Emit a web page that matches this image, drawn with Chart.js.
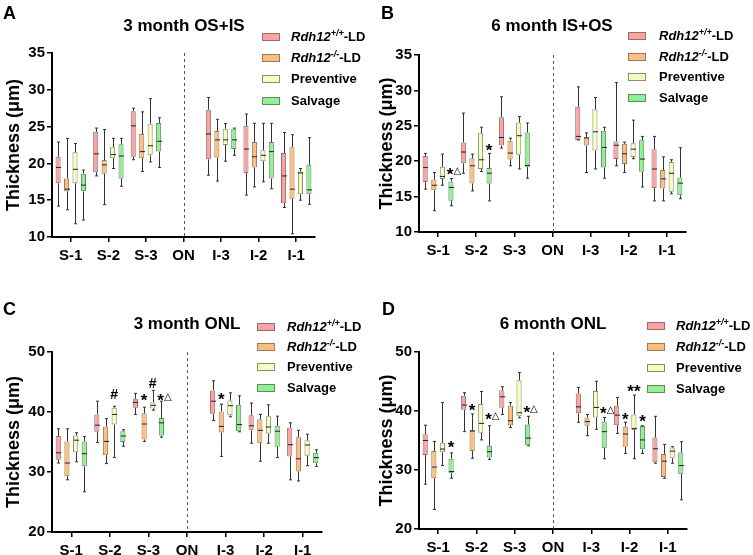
<!DOCTYPE html>
<html>
<head>
<meta charset="utf-8">
<script src="https://cdn.jsdelivr.net/npm/chart.js@4.4.1/dist/chart.umd.min.js"></script>
<style>
body{margin:0;background:#fff;font-family:"Liberation Sans",Arial,sans-serif;}
#fig{position:relative;width:753px;height:555px;overflow:hidden;background:#fff;}
canvas{position:absolute;}
.lbl{position:absolute;font-weight:bold;color:#000;white-space:nowrap;}
.letter{font-size:18px;line-height:18px;}
.ttl{font-size:17px;line-height:17px;transform:translate(-50%,-50%);}
.row{position:absolute;height:16px;line-height:16px;font-size:13px;font-weight:bold;white-space:nowrap;color:#000;}
.sw{position:absolute;top:4px;width:18px;height:8px;box-sizing:border-box;border:1px solid #777;}
.tx{position:absolute;top:0;}
sup{font-size:9px;vertical-align:5px;line-height:0;}
</style>
</head>
<body>
<div id="fig">
  <canvas id="cA" width="376" height="277" style="left:0;top:0"></canvas>
  <canvas id="cB" width="380" height="277" style="left:373px;top:0"></canvas>
  <canvas id="cC" width="376" height="278" style="left:0;top:277px"></canvas>
  <canvas id="cD" width="380" height="278" style="left:373px;top:277px"></canvas>

  <div class="lbl letter" style="left:3px;top:4px">A</div>
  <div class="lbl letter" style="left:381px;top:4px">B</div>
  <div class="lbl letter" style="left:3px;top:300px">C</div>
  <div class="lbl letter" style="left:382px;top:300px">D</div>

  <div class="lbl ttl" style="left:184px;top:25px">3 month OS+IS</div>
  <div class="lbl ttl" style="left:552px;top:25px">6 month IS+OS</div>
  <div class="lbl ttl" style="left:187px;top:323px">3 month ONL</div>
  <div class="lbl ttl" style="left:553px;top:323px">6 month ONL</div>
  <div id="legends"></div>
</div>
<script>
Chart.defaults.font.family = '"Liberation Sans", Arial, sans-serif';
Chart.defaults.color = '#000';

// x categories
const categories = ['S-1', 'S-2', 'S-3', 'ON', 'I-3', 'I-2', 'I-1'];
const groupNames = ['Rdh12+/+-LD', 'Rdh12-/--LD', 'Preventive', 'Salvage'];
const fills = ['#F9A3A3', '#FDBE82', '#F6FBC2', '#95EE95'];
const borders = ['#9a6e6e', '#9a7a5c', '#8c8c70', '#5e8c5e'];

// each entry: [min, q1, median, q3, max]  (null = no data at ON)
// panel A: 3 month OS+IS
const A_wt   = [[14.2,17.3,19.45,20.9,22.9],[18.3,18.8,21.3,24.3,24.8],[20.5,20.9,25.1,27.1,27.5],null,[18.4,20.55,24.0,27.3,28.95],[15.7,18.7,21.95,25.1,26.7],[14.0,14.6,18.3,21.4,24.2]];
const A_ko   = [[13.7,16.2,16.5,17.95,23.4],[14.4,18.6,19.8,20.45,24.6],[18.9,20.7,21.6,24.0,27.0],null,[17.6,20.8,23.2,24.4,26.0],[16.8,19.45,20.9,22.9,25.45],[10.45,15.2,16.5,22.2,23.9]];
const A_prev = [[11.8,17.3,19.2,21.5,22.7],[19.3,20.7,21.2,22.2,23.4],[20.2,21.1,22.4,25.4,28.8],null,[20.3,22.5,23.2,24.7,25.4],[17.5,20.3,21.1,21.8,25.45],[15.0,15.8,18.7,18.9,19.3]];
const A_salv = [[12.3,16.2,17.05,18.6,19.1],[16.9,17.9,21.0,22.6,23.4],[19.45,21.6,23.0,25.5,26.2],null,[21.1,21.95,23.2,24.7,24.8],[16.55,17.95,21.6,22.9,25.45],[14.45,15.8,16.4,19.8,23.5]];

// panel B: 6 month IS+OS
const B_wt   = [[16.05,17.05,19.1,20.75,21.1],[18.3,19.7,21.3,22.65,26.8],[21.85,22.2,23.35,26.2,29.1],null,[23.0,23.0,23.5,27.7,30.5],[19.35,20.3,22.25,22.8,31.1],[14.4,16.2,18.9,21.7,23.5]];
const B_ko   = [[13.0,15.9,16.6,17.4,18.4],[15.8,16.85,19.35,20.4,21.0],[19.35,20.25,21.15,22.9,23.25],null,[18.4,22.2,23.3,23.35,24.0],[18.4,19.6,21.05,22.45,22.7],[14.4,16.15,17.5,18.75,20.6]];
const B_prev = [[16.6,17.5,17.85,19.2,21.0],[18.55,18.9,20.2,23.95,24.8],[18.9,20.9,23.6,25.45,26.3],null,[18.9,21.5,24.15,27.35,29.0],[20.35,20.6,21.7,22.55,25.8],[15.4,15.7,18.3,19.9,20.2]];
const B_salv = [[13.7,14.4,16.3,17.15,17.55],[14.4,16.85,18.3,19.05,21.1],[17.6,19.2,19.4,24.05,25.4],null,[17.6,19.1,21.95,24.3,24.8],[16.35,18.5,20.3,22.95,23.5],[14.7,15.2,16.9,17.7,21.9]];

// panel C: 3 month ONL
const C_wt   = [[31.5,32.05,33.2,36.0,37.2],[34.9,36.7,37.8,39.6,41.8],[39.6,40.7,41.6,42.2,43.1],null,[38.6,39.7,41.8,43.6,45.2],[34.8,36.95,37.7,39.45,41.5],[28.7,32.6,34.55,37.4,38.2]];
const C_ko   = [[28.7,29.3,31.5,35.1,37.2],[31.4,32.8,35.1,37.6,38.9],[35.1,35.4,38.0,39.8,40.8],null,[32.6,36.6,37.6,40.1,41.3],[31.8,34.8,36.95,38.8,39.6],[28.5,30.1,32.2,35.8,36.95]];
const C_prev = [[31.7,33.3,35.3,36.1,36.55],[32.4,37.9,39.6,40.7,40.95],[40.3,40.6,41.1,41.6,43.6],null,[39.2,39.45,41.05,41.9,43.2],[34.8,36.4,37.5,39.3,41.2],[31.05,32.7,34.5,35.3,36.3]];
const C_salv = [[26.7,30.95,33.05,35.1,35.9],[34.3,35.0,36.0,36.8,37.05],[35.8,36.1,38.2,39.0,41.8],null,[36.7,36.8,37.9,41.2,42.7],[32.4,34.2,36.8,37.7,39.3],[30.95,31.45,32.4,33.2,33.7]];

// panel D: 6 month ONL
const D_wt   = [[27.6,32.55,35.0,36.05,37.6],[36.5,40.2,41.0,42.6,43.1],[39.4,40.55,42.4,43.5,44.1],null,[38.1,39.6,40.7,42.95,44.0],[36.2,37.6,39.3,40.9,42.3],[31.15,31.3,33.6,35.5,39.1]];
const D_ko   = [[23.3,28.6,30.5,33.2,34.85],[32.0,33.2,36.6,36.8,39.5],[37.2,37.6,38.35,40.9,41.45],null,[35.8,37.5,38.2,38.9,39.4],[32.8,33.95,36.1,37.35,38.1],[28.6,28.8,31.5,32.7,34.35]];
const D_prev = [[30.75,33.0,33.55,34.6,41.45],[35.1,36.3,37.9,41.2,43.3],[38.85,39.1,39.7,45.2,46.5],null,[36.9,38.9,40.6,43.4,45.05],[31.9,36.8,37.05,39.4,42.7],[31.15,32.0,33.2,33.8,33.95]];
const D_salv = [[28.6,29.45,29.75,31.9,32.9],[31.8,32.1,33.1,34.1,37.5],[34.1,34.2,35.4,37.7,39.1],null,[31.9,33.7,36.5,38.2,38.9],[32.8,33.5,35.1,37.45,37.5],[24.95,29.3,30.75,32.95,34.8]];

// significance marks: [category index, group index, y value, text]
const A_marks = [];
const B_marks = [[0,3,18.8,'*△'],[1,3,22.2,'*']];
const C_marks = [[1,2,43.0,'#'],[2,1,42.7,'*'],[2,2,44.8,'#'],[2,3,42.7,'*△'],[4,1,42.9,'*']];
const D_marks = [[0,3,34.5,'*'],[1,1,40.8,'*'],[1,3,39.4,'*△'],[2,3,40.5,'*△'],[4,3,40.3,'*△'],[5,1,39.3,'*'],[5,2,44.0,'**'],[5,3,39.0,'*']];

const starFont = 'bold 17px "Liberation Sans", sans-serif';
const hashFont = 'bold 14px "Liberation Sans", sans-serif';
const triFont = '10px "DejaVu Sans", sans-serif';

function drawMark(ctx, text, cx, cy) {
  // split into pieces so the triangle can use a smaller font
  const parts = [];
  for (const ch of text) {
    if (ch === '△') parts.push({ t: ch, f: triFont, dy: 4 });
    else if (ch === '#') parts.push({ t: ch, f: hashFont, dy: 5 });
    else parts.push({ t: ch, f: starFont, dy: 10 });
  }
  let total = 0;
  parts.forEach(p => { ctx.font = p.f; p.w = ctx.measureText(p.t).width; total += p.w; });
  let x = cx - total / 2;
  ctx.textAlign = 'left';
  parts.forEach(p => {
    ctx.font = p.f;
    ctx.fillText(p.t, x, cy + p.dy);
    x += p.w;
  });
}

const boxPlot = {
  id: 'boxPlot',
  beforeDatasetsDraw(chart) {
    const {ctx, chartArea, scales} = chart;
    const x = Math.round(scales.x.getPixelForValue(3)) + 0.5;
    ctx.save();
    ctx.strokeStyle = '#555';
    ctx.lineWidth = 1;
    ctx.setLineDash([3, 3]);
    ctx.beginPath();
    ctx.moveTo(x, chartArea.top);
    ctx.lineTo(x, chartArea.bottom);
    ctx.stroke();
    ctx.restore();
  },
  afterDatasetsDraw(chart, args, opts) {
    const {ctx, scales: {y}} = chart;
    ctx.save();
    ctx.lineWidth = 1;
    chart.data.datasets.forEach((ds, i) => {
      const meta = chart.getDatasetMeta(i);
      ds.stats.forEach((s, j) => {
        if (!s) return;
        const el = meta.data[j];
        const x = Math.round(el.x) + 0.5, hw = el.width / 2;
        const p = s.map(v => y.getPixelForValue(v));
        ctx.strokeStyle = '#333';
        ctx.beginPath();
        ctx.moveTo(x, p[0]); ctx.lineTo(x, p[1]);
        ctx.moveTo(x, p[3]); ctx.lineTo(x, p[4]);
        ctx.moveTo(x - hw * 0.6, p[0]); ctx.lineTo(x + hw * 0.6, p[0]);
        ctx.moveTo(x - hw * 0.6, p[4]); ctx.lineTo(x + hw * 0.6, p[4]);
        ctx.stroke();
        ctx.strokeStyle = '#222';
        ctx.beginPath();
        ctx.moveTo(x - hw, p[2]); ctx.lineTo(x + hw, p[2]);
        ctx.stroke();
      });
    });
    // significance marks
    ctx.fillStyle = '#000';
    ctx.textBaseline = 'alphabetic';
    (opts.marks || []).forEach(m => {
      const el = chart.getDatasetMeta(m[1]).data[m[0]];
      const dx = m[3] === '*△' ? 3 : 0;
      drawMark(ctx, m[3], el.x + dx, y.getPixelForValue(m[2]));
    });
    ctx.restore();
  }
};

function makePanel(id, groups, marks, yMin, yMax, yStep, yW, xH, padTop, padRight) {
  new Chart(document.getElementById(id), {
    type: 'bar',
    data: {
      labels: categories,
      datasets: groups.map((g, k) => ({
        label: groupNames[k],
        data: g.map(v => v ? [v[1], v[3]] : null),
        stats: g,
        backgroundColor: fills[k],
        borderColor: borders[k],
        borderWidth: 1,
        borderSkipped: false,
        categoryPercentage: 0.9,
        barPercentage: 0.6
      }))
    },
    options: {
      responsive: false,
      animation: false,
      layout: { padding: { top: padTop, right: padRight, left: 0, bottom: 0 } },
      plugins: {
        legend: { display: false },
        tooltip: { enabled: false },
        boxPlot: { marks: marks }
      },
      scales: {
        x: {
          grid: { offset: false, drawOnChartArea: false, drawTicks: true, tickLength: 5, color: '#000', lineWidth: 1.5 },
          border: { color: '#000', width: 2 },
          ticks: { font: { size: 15, weight: 'bold' }, padding: 5, autoSkip: false, maxRotation: 0 },
          afterFit: s => { s.height = xH; }
        },
        y: {
          min: yMin, max: yMax,
          grid: { drawOnChartArea: false, drawTicks: true, tickLength: 5, color: '#000', lineWidth: 1.5 },
          border: { color: '#000', width: 2 },
          ticks: { stepSize: yStep, font: { size: 15, weight: 'bold' }, padding: 2 },
          title: { display: true, text: 'Thickness (μm)', font: { size: 18, weight: 'bold' }, padding: { top: 3, bottom: 0 } },
          afterFit: s => { s.width = yW; }
        }
      }
    },
    plugins: [boxPlot]
  });
}

makePanel('cA', [A_wt, A_ko, A_prev, A_salv], A_marks, 10, 35, 5, 52, 40, 53, 61);
makePanel('cB', [B_wt, B_ko, B_prev, B_salv], B_marks, 10, 35, 5, 46, 45, 55, 67);
makePanel('cC', [C_wt, C_ko, C_prev, C_salv], C_marks, 20, 50, 10, 52, 23, 75, 54);
makePanel('cD', [D_wt, D_ko, D_prev, D_salv], D_marks, 20, 50, 10, 46, 26, 75, 66);

// legends (HTML so the italic gene name and superscripts stay real text)
const legendPos = [
  { boxX: 262, textX: 291, y0: 37, dy: 21.2 },
  { boxX: 628, textX: 659, y0: 36, dy: 20.5 },
  { boxX: 257, textX: 287, y0: 326.7, dy: 20.3 },
  { boxX: 647, textX: 676, y0: 325.5, dy: 21 }
];
const legendHtml = [
  '<i>Rdh12</i><sup><i>+/+</i></sup>-LD',
  '<i>Rdh12</i><sup><i>-/-</i></sup>-LD',
  'Preventive',
  'Salvage'
];
let html = '';
legendPos.forEach(p => {
  legendHtml.forEach((t, k) => {
    const top = p.y0 + k * p.dy - 8;
    html += `<div class="row" style="left:${p.boxX}px;top:${top}px;width:120px">` +
      `<span class="sw" style="left:0;background:${fills[k]};border-color:${borders[k]}"></span>` +
      `<span class="tx" style="left:${p.textX - p.boxX}px">${t}</span></div>`;
  });
});
document.getElementById('legends').innerHTML = html;
</script>
</body>
</html>
